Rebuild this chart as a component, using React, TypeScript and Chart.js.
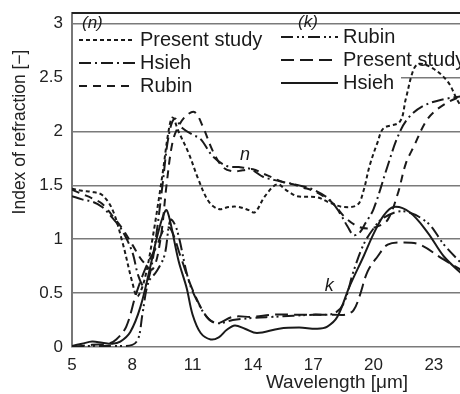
import React, { useEffect, useRef } from "react";
import { Chart, registerables } from "chart.js";

Chart.register(...registerables);

// ---- data ----
const xTicks = [5, 8, 11, 14, 17, 20, 23];
const yTicks = [0, 0.5, 1, 1.5, 2, 2.5, 3];

// n (refractive index)
const nPresentX = [5, 5.5, 6, 6.5, 7, 7.5, 8, 8.25, 8.6, 9, 9.5, 9.8, 10, 10.3, 10.8, 11.3, 11.8, 12.3, 12.8, 13.3, 13.8, 14.1, 14.6, 15.2, 15.7, 16.2, 17.2, 17.8, 18.5, 19.2, 19.5, 19.8, 20.2, 20.5, 21.3, 21.6, 22, 22.3, 23, 23.7, 24.2, 24.5];
const nPresentY = [1.47, 1.45, 1.44, 1.41, 1.28, 0.98, 0.6, 0.47, 0.62, 1.0, 1.6, 2.0, 2.13, 2.0, 1.8, 1.55, 1.35, 1.28, 1.3, 1.3, 1.27, 1.25, 1.4, 1.51, 1.45, 1.4, 1.39, 1.34, 1.3, 1.32, 1.45, 1.68, 1.9, 2.03, 2.09, 2.3, 2.58, 2.63, 2.58, 2.46, 2.28, 2.2];

const nHsiehX = [5, 5.5, 6, 6.5, 7, 7.5, 8, 8.3, 8.6, 8.9, 9.2, 9.5, 9.8, 10.1, 10.5, 11, 11.4, 12, 12.7, 13.3, 13.9, 14.5, 15.3, 16.3, 17, 17.8, 18.3, 18.7, 19, 19.3, 19.6, 20, 20.7, 21.2, 21.7, 22.5, 23.5, 24.5];
const nHsiehY = [1.4, 1.37, 1.35, 1.3, 1.2, 1.08, 0.88, 0.66, 0.56, 0.7, 1.05, 1.5, 1.95, 2.12, 2.03, 1.97, 1.93, 1.77, 1.68, 1.67, 1.65, 1.58, 1.54, 1.5, 1.46, 1.37, 1.25, 1.12, 1.04, 1.06, 1.15, 1.28, 1.68, 1.95, 2.12, 2.24, 2.3, 2.33];

const nRubinX = [5, 5.5, 6, 6.5, 7, 7.5, 8, 8.5, 9, 9.4, 9.7, 10, 10.3, 10.7, 11.1, 11.5, 12, 12.5, 13, 13.5, 14, 14.5, 15, 15.5, 16, 16.5, 17, 17.5, 18, 18.6, 19.2, 19.7, 20.2, 20.7, 21.2, 21.6, 22, 22.7, 23.5, 24.5];
const nRubinY = [1.46, 1.42, 1.38, 1.33, 1.22, 1.1, 0.95, 0.8, 0.72, 1.0, 1.5, 1.9, 2.05, 2.15, 2.18, 2.05, 1.82, 1.67, 1.63, 1.64, 1.65, 1.61, 1.57, 1.53, 1.51, 1.48, 1.45, 1.4, 1.33, 1.2, 1.12, 1.1, 1.12, 1.18, 1.42, 1.7, 1.86, 2.12, 2.25, 2.34];

// k (absorption index)
const kRubinX = [5, 6, 7, 8, 8.3, 8.5, 8.8, 9.2, 9.6, 9.9, 10.2, 10.8, 11.3, 11.8, 12.3, 13, 14, 15, 16, 17, 18, 18.5, 19, 19.5, 20, 20.5, 21.5, 22.7, 23.5, 24.5];
const kRubinY = [0.0, 0.01, 0.01, 0.02, 0.08, 0.3, 0.6, 0.7, 0.85, 1.18, 1.1, 0.62, 0.4, 0.26, 0.22, 0.25, 0.27, 0.28, 0.29, 0.3, 0.31, 0.4, 0.7, 0.95, 1.1, 1.2, 1.26, 1.15, 0.95, 0.75];

const kPresentX = [5, 6, 6.8, 7.2, 7.7, 8.2, 8.7, 9.2, 9.6, 9.9, 10.4, 11, 11.7, 12.2, 13, 14, 15, 16, 17, 18, 18.6, 19, 19.3, 19.7, 20.2, 20.7, 21.5, 22.3, 23.5, 24.5];
const kPresentY = [0.0, 0.02, 0.03, 0.07, 0.19, 0.5, 0.75, 0.93, 1.1, 1.1, 0.84, 0.53, 0.28, 0.22, 0.28, 0.28, 0.3, 0.3, 0.3, 0.3, 0.3, 0.34, 0.47, 0.7, 0.84, 0.95, 0.97, 0.95, 0.81, 0.7];

const kHsiehX = [5, 5.5, 6, 6.5, 7, 7.4, 7.9, 8.4, 8.9, 9.2, 9.5, 9.7, 9.9, 10.3, 10.7, 11, 11.4, 11.9, 12.3, 12.7, 13.1, 13.6, 14.2, 15.3, 16.3, 17.2, 17.7, 18.2, 18.8, 19.5, 20, 20.5, 21, 21.8, 22.7, 23.5, 24.5];
const kHsiehY = [0.01, 0.03, 0.05, 0.04, 0.03, 0.05, 0.14, 0.37, 0.75, 1.0, 1.2, 1.27, 1.15, 0.8, 0.55, 0.3, 0.13, 0.07, 0.09, 0.16, 0.2, 0.17, 0.13, 0.17, 0.18, 0.17, 0.19, 0.28, 0.56, 0.84, 1.05, 1.22, 1.3, 1.25, 1.06, 0.84, 0.66];

const nLegend = ["Present study", "Hsieh", "Rubin"];
const kLegend = ["Rubin", "Present study", "Hsieh"];

const pts = (xs: number[], ys: number[]) => xs.map((x, i) => ({ x, y: ys[i] }));

const FONT = '"Liberation Sans", Arial, sans-serif';
const INK = "#1a1a1a";

const DASH = {
  fine: [4, 3],
  medium: [8, 6],
  dashDot: [12, 4, 2, 4],
  dashDotDot: [12, 4, 2, 3, 2, 4],
  long: [13, 6],
  solid: [] as number[],
};

export default function App() {
  const ref = useRef<HTMLCanvasElement | null>(null);

  useEffect(() => {
    if (!ref.current) return;
    const mk = (label: string, xs: number[], ys: number[], dash: number[]) => ({
      label,
      data: pts(xs, ys),
      borderColor: INK,
      borderWidth: 2,
      borderDash: dash,
      pointRadius: 0,
      tension: 0.35,
      fill: false,
    });

    const overlay = {
      id: "overlay",
      beforeDatasetsDraw(chart: any) {
        const { ctx, chartArea, scales } = chart;
        const y25 = scales.y.getPixelForValue(2.5);
        ctx.save();
        ctx.fillStyle = "#fff";
        ctx.fillRect(chartArea.left + 1, y25 - 3, 400 - chartArea.left, 6);
        ctx.restore();
      },
      afterDatasetsDraw(chart: any) {
        const { ctx, chartArea, scales } = chart;
        ctx.save();
        // top border
        ctx.strokeStyle = "#222";
        ctx.lineWidth = 2;
        ctx.beginPath();
        ctx.moveTo(chartArea.left, chartArea.top);
        ctx.lineTo(chartArea.right, chartArea.top);
        ctx.stroke();

        const drawRow = (x0: number, x1: number, y: number, dash: number[], text: string) => {
          ctx.setLineDash(dash);
          ctx.strokeStyle = INK;
          ctx.lineWidth = 2;
          ctx.beginPath();
          ctx.moveTo(x0, y);
          ctx.lineTo(x1, y);
          ctx.stroke();
          ctx.setLineDash([]);
          ctx.fillStyle = INK;
          ctx.font = `20px ${FONT}`;
          ctx.textAlign = "left";
          ctx.textBaseline = "middle";
          ctx.fillText(text, x1 + 5, y);
        };
        // (n) legend
        ctx.fillStyle = INK;
        ctx.font = `italic 17px ${FONT}`;
        ctx.textAlign = "left";
        ctx.textBaseline = "middle";
        ctx.fillText("(n)", 82, 23);
        drawRow(79, 135, 40, DASH.fine, nLegend[0]);
        drawRow(79, 135, 63, DASH.dashDot, nLegend[1]);
        drawRow(79, 135, 86, DASH.medium, nLegend[2]);
        // (k) legend
        ctx.fillStyle = INK;
        ctx.font = `italic 17px ${FONT}`;
        ctx.fillText("(k)", 298, 22);
        drawRow(281, 338, 37, DASH.dashDotDot, kLegend[0]);
        drawRow(281, 338, 60, DASH.long, kLegend[1]);
        drawRow(281, 338, 83, DASH.solid, kLegend[2]);

        // curve labels
        ctx.fillStyle = INK;
        ctx.font = `italic 18px ${FONT}`;
        ctx.textAlign = "center";
        ctx.fillText("n", scales.x.getPixelForValue(13.6), scales.y.getPixelForValue(1.78));
        ctx.fillText("k", scales.x.getPixelForValue(17.8), scales.y.getPixelForValue(0.57));

        // axis titles
        ctx.fillStyle = "#222";
        ctx.font = `19px ${FONT}`;
        ctx.textAlign = "center";
        ctx.textBaseline = "middle";
        ctx.fillText("Wavelength [\u03bcm]", 337, 383);
        ctx.translate(20, 132);
        ctx.rotate(-Math.PI / 2);
        ctx.font = `17.5px ${FONT}`;
        ctx.fillText("Index of refraction [\u2212]", 0, 0);
        ctx.restore();
      },
    };

    const chart = new Chart(ref.current, {
      type: "line",
      data: {
        datasets: [
          mk("n Present study", nPresentX, nPresentY, DASH.fine),
          mk("n Hsieh", nHsiehX, nHsiehY, DASH.dashDot),
          mk("n Rubin", nRubinX, nRubinY, DASH.medium),
          mk("k Rubin", kRubinX, kRubinY, DASH.dashDotDot),
          mk("k Present study", kPresentX, kPresentY, DASH.long),
          mk("k Hsieh", kHsiehX, kHsiehY, DASH.solid),
        ],
      },
      options: {
        animation: false,
        responsive: false,
        devicePixelRatio: 1,
        layout: { padding: { top: 13, right: 0, left: 0, bottom: 0 } },
        plugins: { legend: { display: false }, tooltip: { enabled: false } },
        scales: {
          x: {
            type: "linear",
            min: 5,
            max: 24.3,
            afterBuildTicks: (s: any) => {
              s.ticks = xTicks.map((v) => ({ value: v }));
            },
            afterFit: (s: any) => {
              s.height = 47;
              s.paddingLeft = 0;
              s.paddingRight = 0;
            },
            grid: { display: false, drawTicks: false },
            border: { display: false },
            ticks: {
              padding: 8,
              color: "#222",
              font: { family: FONT, size: 17 },
              maxRotation: 0,
              autoSkip: false,
              callback: (v: any) => String(v),
            },
          },
          y: {
            type: "linear",
            min: 0,
            max: 3.1,
            afterBuildTicks: (s: any) => {
              s.ticks = yTicks.map((v) => ({ value: v }));
            },
            afterFit: (s: any) => {
              s.width = 72;
              s.paddingTop = 0;
              s.paddingBottom = 0;
            },
            grid: { color: "#7a7a7a", lineWidth: 1.6, drawTicks: false },
            border: { display: true, color: "#777", width: 2 },
            ticks: {
              padding: 9,
              color: "#222",
              font: { family: FONT, size: 17 },
              callback: (v: any) => String(v),
            },
          },
        },
      },
      plugins: [overlay],
    } as any);
    return () => chart.destroy();
  }, []);

  return (
    <div
      style={{
        position: "fixed",
        left: 0,
        top: 0,
        width: 460,
        height: 394,
        overflow: "hidden",
        background: "#fff",
      }}
    >
      <canvas ref={ref} width={460} height={394} style={{ width: 460, height: 394, display: "block" }} />
    </div>
  );
}
